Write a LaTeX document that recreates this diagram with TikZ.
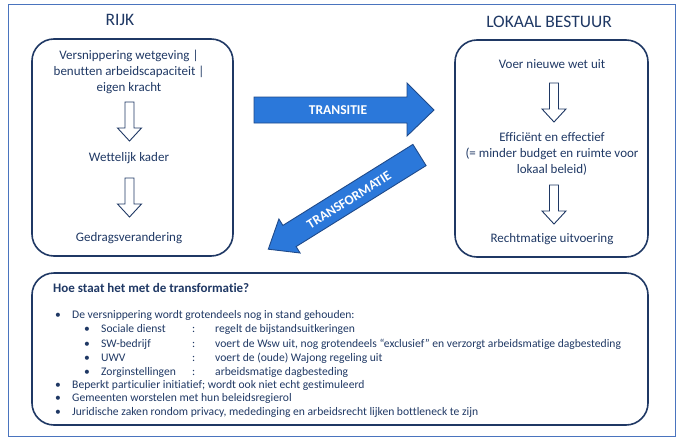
\documentclass[tikz,border=0pt]{standalone}
\usepackage{fontspec}
\setmainfont{Carlito}[Ligatures=NoCommon]
\definecolor{navy}{HTML}{1F3864}
\definecolor{arrowblue}{HTML}{2B78DA}
\definecolor{arrowedge}{HTML}{1F4A8A}
\definecolor{frameblue}{HTML}{4A74BE}
\begin{document}
\begin{tikzpicture}[x=1pt,y=-1pt,
  panel/.style={draw=navy, line width=1.6pt, rounded corners=22pt},
  heading/.style={text=navy, font=\fontsize{17.5}{21}\selectfont, inner sep=0pt, anchor=base},
  boxtxt/.style={text=navy, font=\fontsize{13}{15.6}\selectfont, align=center, inner sep=0pt},
  btxt/.style={text=navy, font=\fontsize{11.6}{13.5}\selectfont, inner sep=0pt, anchor=base west},
  bigarrow/.style={fill=arrowblue, draw=arrowedge, line width=0.9pt, line join=miter},
  arrowtxt/.style={text=white, font=\bfseries\fontsize{13.5}{16}\selectfont, inner sep=0pt},
  hollowarrow/.pic={\draw[navy, line width=0.9pt, fill=white, line join=miter]
      (-4.5,0) -- (4.5,0) -- (4.5,26) -- (12,26) -- (0,39) -- (-12,26) -- (-4.5,26) -- cycle;}
]
\useasboundingbox (0,0) rectangle (684,444);
\draw[frameblue, line width=1pt] (8,5) rectangle (675,436);

% titles
\node[heading] (rijk) at (120,26) {RIJK};
\node[heading] (lokaal) at (549,28) {LOKAAL BESTUUR};

% panels
\draw[panel] (32,39) rectangle (233,256);
\draw[panel] (455,40) rectangle (648,257);
\draw[panel] (32,273) rectangle (648,425);

% left panel
\node[boxtxt] (v1) at (129,72) {Versnippering wetgeving |\\benutten arbeidscapaciteit |\\eigen kracht};
\pic (la1) at (129.5,102) {hollowarrow};
\node[boxtxt] (v2) at (129,158) {Wettelijk kader};
\pic (la2) at (129.5,178) {hollowarrow};
\node[boxtxt] (v3) at (129,238) {Gedragsverandering};

% right panel
\node[boxtxt] (r1) at (552,64) {Voer nieuwe wet uit};
\pic (ra1) at (554,83) {hollowarrow};
\node[boxtxt] (r2) at (552,154) {Efficiënt en effectief\\(= minder budget en ruimte voor\\lokaal beleid)};
\pic (ra2) at (554,185) {hollowarrow};
\node[boxtxt] (r3) at (552,239) {Rechtmatige uitvoering};

% TRANSITIE arrow
\draw[bigarrow] (254,97) -- (407,97) -- (407,83) -- (434,110) -- (407,136) -- (407,123) -- (254,123) -- cycle;
\node[arrowtxt] (transitie) at (338,110) {TRANSITIE};

% TRANSFORMATIE arrow
\draw[bigarrow] (412.9,144.4) -- (282.9,225.4) -- (278.9,219.0) -- (268.3,249.2) -- (300.1,253.0) -- (296.1,246.6) -- (426.1,165.6) -- cycle;
\node[arrowtxt, rotate=32] (transformatie) at (349,200) {TRANSFORMATIE};

% bottom panel
\node[text=navy, font=\bfseries\fontsize{13}{15}\selectfont, inner sep=0pt, anchor=base west] (q) at (53,292) {Hoe staat het met de transformatie?};

\node[btxt] (b1) at (55,318) {•};
\node[btxt] (t1) at (72,318) {De versnippering wordt grotendeels nog in stand gehouden:};

\node[btxt] (sb1) at (84,332.5) {•};
\node[btxt] (sn1) at (101,332.5) {Sociale dienst};
\node[btxt] (sc1) at (192,332.5) {:};
\node[btxt] (sd1) at (215,332.5) {regelt de bijstandsuitkeringen};

\node[btxt] (sb2) at (84,347) {•};
\node[btxt] (sn2) at (101,347) {SW-bedrijf};
\node[btxt] (sc2) at (192,347) {:};
\node[btxt] (sd2) at (215,347) {voert de Wsw uit, nog grotendeels “exclusief” en verzorgt arbeidsmatige dagbesteding};

\node[btxt] (sb3) at (84,361) {•};
\node[btxt] (sn3) at (101,361) {UWV};
\node[btxt] (sc3) at (192,361) {:};
\node[btxt] (sd3) at (215,361) {voert de (oude) Wajong regeling uit};

\node[btxt] (sb4) at (84,375) {•};
\node[btxt] (sn4) at (101,375) {Zorginstellingen};
\node[btxt] (sc4) at (192,375) {:};
\node[btxt] (sd4) at (215,375) {arbeidsmatige dagbesteding};

\node[btxt] (b2) at (55,388) {•};
\node[btxt] (t2) at (72,388) {Beperkt particulier initiatief; wordt ook niet echt gestimuleerd};
\node[btxt] (b3) at (55,401.5) {•};
\node[btxt] (t3) at (72,401.5) {Gemeenten worstelen met hun beleidsregierol};
\node[btxt] (b4) at (55,415) {•};
\node[btxt] (t4) at (72,415) {Juridische zaken rondom privacy, mededinging en arbeidsrecht lijken bottleneck te zijn};
\end{tikzpicture}
\end{document}
